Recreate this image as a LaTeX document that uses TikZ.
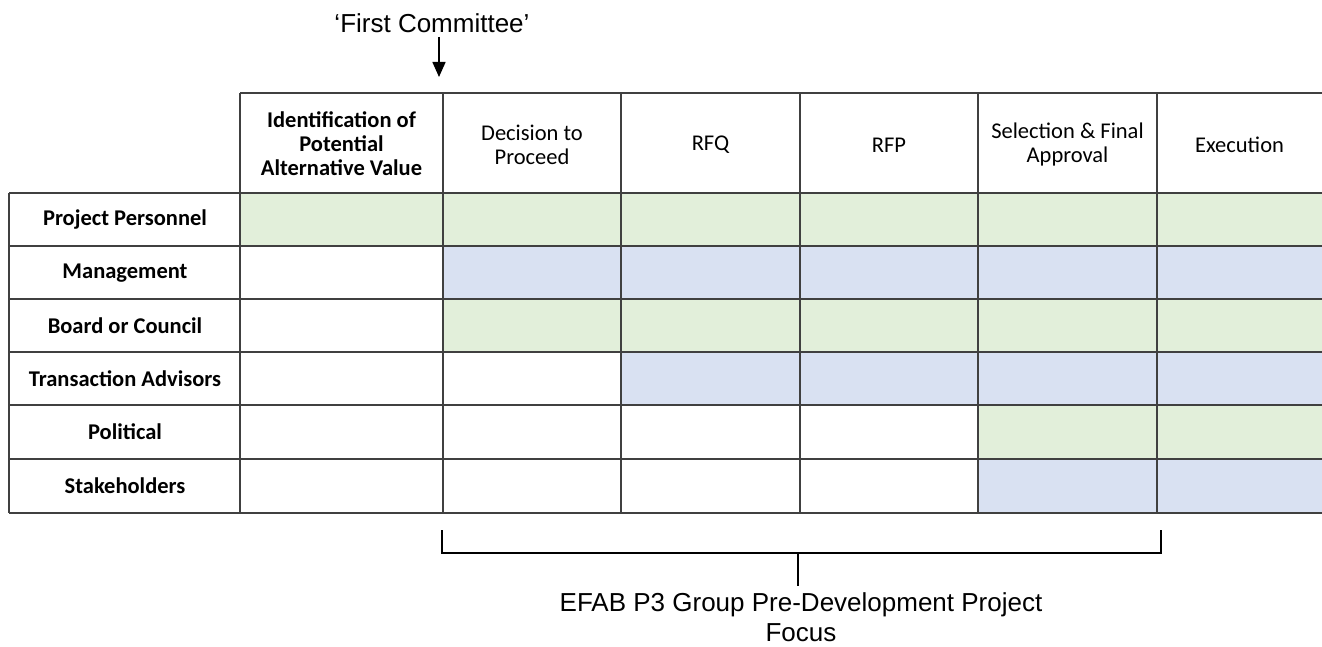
\documentclass[tikz,border=0pt]{standalone}
\usepackage{fontspec}
\setmainfont{Liberation Sans}
\newfontfamily\calib{Carlito}
\usetikzlibrary{arrows.meta}
\definecolor{cgreen}{HTML}{E2EFDA}
\definecolor{cblue}{HTML}{D9E1F2}
\definecolor{gridc}{HTML}{404040}
\begin{document}
\begin{tikzpicture}[x=1pt,y=-1pt,
  gridline/.style={draw=gridc,line width=1.4pt},
  cell/.style={font=\calib\fontsize{22.5}{24}\selectfont,align=center,inner sep=0pt},
  boldcell/.style={font=\calib\bfseries\fontsize{22.5}{24}\selectfont,align=center,inner sep=0pt},
  arial/.style={font=\fontsize{26}{30}\selectfont,align=center,inner sep=0pt},
  conn/.style={draw=black,line width=2pt}]
\useasboundingbox (0,0) rectangle (1322,647);
% fills
\fill[cgreen] (240,193) rectangle (1322,246);
\fill[cblue]  (443,246) rectangle (1322,299);
\fill[cgreen] (443,299) rectangle (1322,352);
\fill[cblue]  (621,352) rectangle (1322,405);
\fill[cgreen] (978,405) rectangle (1322,459);
\fill[cblue]  (978,459) rectangle (1322,513);
% grid
\draw[gridline] (240,93) -- (1322,93);
\foreach \y in {193,246,299,352,405,459,513} \draw[gridline] (9,\y) -- (1322,\y);
\draw[gridline] (9,193) -- (9,513);
\foreach \x in {240,443,621,800,978,1157} \draw[gridline] (\x,93) -- (\x,513);
% headers
\node[boldcell] (h1) at (341.5,144) {Identification of\\Potential\\Alternative Value};
\node[cell] (h2) at (532,145) {Decision to\\Proceed};
\node[cell] (h3) at (710.5,145) {RFQ};
\node[cell] (h4) at (889,145) {RFP};
\node[cell] (h5) at (1067.5,145) {Selection \& Final\\Approval};
\node[cell] (h6) at (1239.5,145) {Execution};
% row labels
\node[boldcell] (r1) at (125,220) {Project Personnel};
\node[boldcell] (r2) at (125,273) {Management};
\node[boldcell] (r3) at (125,326) {Board or Council};
\node[boldcell] (r4) at (125,379) {Transaction Advisors};
\node[boldcell] (r5) at (125,432) {Political};
\node[boldcell] (r6) at (125,486) {Stakeholders};
% first committee
\node[arial] (fc) at (432,23) {`First Committee'};
\coordinate (atop) at (439,37);
\coordinate (atip) at (439,77);
\draw[line width=1.6pt,-{Triangle[length=15pt,width=13pt]}] (atop) -- (atip);
% bracket
\coordinate (bl) at (442,530);
\coordinate (br) at (1161,530);
\coordinate (bm) at (798,553);
\node[arial] (focus) at (801,617) {EFAB P3 Group Pre-Development Project\\Focus};
\draw[conn] (bl) -- (442,553) -| (br);
\draw[conn] (bm) -- (bm |- 0,586);
\end{tikzpicture}
\end{document}
